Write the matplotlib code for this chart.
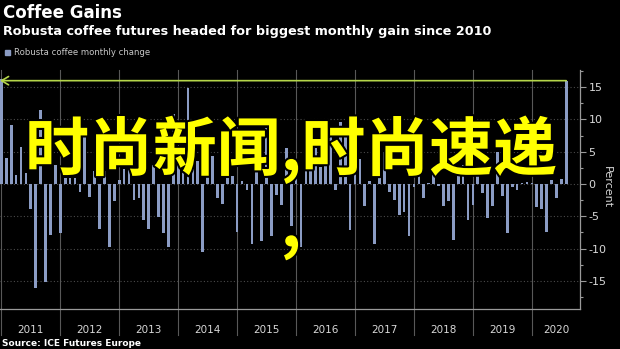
import numpy as np
import matplotlib.pyplot as plt
import matplotlib.patheffects as pe
import matplotlib.transforms as mtransforms
from matplotlib.patches import Rectangle

plt.rcParams['axes.unicode_minus'] = False

# Robusta coffee monthly change (%), Dec 2010 .. Jul 2020, one value per month
changes = [
    16.3, 4.1, 9.1, 1.4, 5.8, 1.7, -3.9, -16.1, 11.5, -15.2, -7.9, 3.0,
    -7.6, 0.9, 0.9, 0.9, -1.2, 9.0, -2.0, 2.0, -7.0, 2.0, -9.7, -2.6,
    0.6, 2.3, 5.0, -2.4, -2.2, -5.6, -7.0, 3.0, -5.1, -7.6, -9.7, 10.8,
    3.0, 5.5, 14.8, 2.4, 3.6, -10.6, 4.0, 4.3, -2.2, -3.1, 2.8, 1.2,
    -7.5, 0.4, -0.9, -9.3, 4.0, -8.8, 8.6, -8.1, -1.7, -3.2, 5.5, -6.5,
    3.6, -9.7, 2.0, 2.7, 5.5, 2.7, 2.9, 8.5, -0.9, 9.6, 8.9, -7.1,
    3.5, 3.8, -3.4, 0.4, -9.3, 3.0, 5.0, -1.2, -2.5, -4.8, -4.4, -8.1,
    -0.4, 2.5, -2.1, 0.1, 1.8, -0.3, -3.4, -2.7, -8.7, 1.5, 3.0, -5.6,
    -3.3, 1.2, -1.4, -5.3, -3.4, 5.0, -1.9, -7.6, -0.4, -1.0, 0.1, 0.3,
    0.1, -3.5, -3.8, -7.5, 0.6, -2.1, 0.8, 16.0,
]
years = ['2011', '2012', '2013', '2014', '2015', '2016', '2017', '2018', '2019', '2020']
y_ticks = [-15, -10, -5, 0, 5, 10, 15]

bar_color = '#8b9cc4'
arrow_color = '#b5d64a'
text_color = '#d8d8d8'

fig = plt.figure(figsize=(6.2, 3.49), dpi=100, facecolor='black')
ax = fig.add_axes([0, 0.1146, 0.9355, 0.6848], facecolor='black')

x = np.arange(len(changes))
ax.bar(x, changes, width=0.55, color=bar_color, zorder=2)

xmin, xmax = -0.27, 117.8
ax.set_xlim(xmin, xmax)
ax.set_ylim(-19.35, 17.65)

# year separators run down into the label band
trans = mtransforms.blended_transform_factory(ax.transData, ax.transAxes)
for k, yr in enumerate(years):
    start = 12 * k
    ax.plot([start, start], [-0.109, 1], transform=trans, color='#585858',
            lw=0.8, clip_on=False, zorder=1)
    mid = (start + min(start + 12, xmax)) / 2
    ax.text(mid, -0.086, yr, transform=trans, ha='center', va='center',
            color=text_color, fontsize=7.5)

ax.set_xticks([])
ax.yaxis.tick_right()
ax.set_yticks(y_ticks)
ax.set_yticks(np.arange(-17.5, 18, 5), minor=True)
ax.tick_params(axis='y', which='major', colors='#9a9a9a', labelcolor=text_color,
               length=4, width=0.8, labelsize=8, pad=2)
ax.tick_params(axis='y', which='minor', colors='#9a9a9a', length=2, width=0.8)
ax.grid(axis='y', which='major', color='#4a4a4a', linestyle=(0, (1, 2)), lw=0.8)
ax.set_axisbelow(True)

for side in ['top', 'left']:
    ax.spines[side].set_visible(False)
for side in ['right', 'bottom']:
    ax.spines[side].set_color('#9a9a9a')
    ax.spines[side].set_linewidth(0.9)

ax.set_ylabel('Percent', rotation=270, color=text_color, fontsize=8, va='center')
ax.yaxis.set_label_position('right')
ax.yaxis.set_label_coords(1.055, 0.51)

# arrow from the latest gain back to the 2010 bar
ax.annotate('', xy=(xmin, changes[-1]), xytext=(x[-1], changes[-1]),
            arrowprops=dict(arrowstyle='->,head_length=0.5,head_width=0.3',
                            color=arrow_color, lw=1.2, shrinkA=0, shrinkB=0),
            zorder=3)

# titles and legend
fig.text(0.005, 1 - 13 / 349, 'Coffee Gains', fontsize=12, fontweight='bold',
         color='white', va='center')
fig.text(0.005, 1 - 32 / 349,
         'Robusta coffee futures headed for biggest monthly gain since 2010',
         fontsize=9.2, fontweight='bold', color='white', va='center')
fig.patches.append(Rectangle((5 / 620, 1 - 55 / 349), 5 / 620, 5 / 349,
                             transform=fig.transFigure, color=bar_color))
fig.text(14 / 620, 1 - 52.5 / 349, 'Robusta coffee monthly change', fontsize=6.1,
         color='#c8c8c8', va='center')
fig.text(0.004, 1 - 343 / 349, 'Source: ICE Futures Europe', fontsize=6.5,
         fontweight='bold', color='white', va='center')

# yellow overlay caption
cjk = ['Noto Sans CJK SC', 'DejaVu Sans']
outline = [pe.withStroke(linewidth=3, foreground='black')]
fig.text(291 / 620, 1 - 150 / 349, '时尚新闻,时尚速递', fontsize=46, fontweight='bold',
         color='#ffff00', family=cjk, ha='center', va='center', path_effects=outline)
fig.text(291 / 620, 1 - 228 / 349, ',', fontsize=46, fontweight='bold',
         color='#ffff00', family=cjk, ha='center', va='center', path_effects=outline)

fig.savefig('out.png', dpi=100, facecolor='black')
